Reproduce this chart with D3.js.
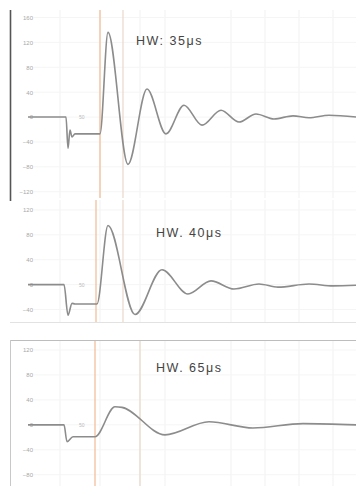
<!DOCTYPE html>
<html>
<head>
<meta charset="utf-8">
<script src="https://cdn.jsdelivr.net/npm/d3@7"></script>
<style>
  body { margin: 0; background: #fff; }
  svg { display: block; }
</style>
</head>
<body>
<div id="chart"></div>
<script>
// time axis in µs, shared by the three panels
var tA = [2, 40, 42, 44, 46, 49, 74, 82, 102, 121, 140, 158, 176, 195, 213, 230, 248, 267, 283, 303, 330];
var vA = [0, 0, -50, -21, -32, -27, -27, 136, -76, 45, -27, 19, -13, 11, -8, 5, -3, 2, -1, 3, 0];

var tB = [2, 38, 42, 46, 49, 71, 82, 109, 136, 162, 185, 208, 233, 252, 283, 307, 330];
var vB = [0, 0, -49, -30, -31, -31, 95, -48, 24, -15, 6, -7, 1, -4, 1, -2, -1];

var tC = [2, 38, 41, 47, 51, 69, 89, 96, 139, 183, 227, 277, 330];
var vC = [0, 0, -27, -19, -19, -19, 29, 28, -16, 5, -5, 2, 0];

var panels = [
  {name: "HW: 35\u03bcs", t: tA, v: vA, ticks: [160, 120, 80, 40, 0, -40, -80, -120], domain: [-130, 172], top: 10, bottom: 198, marks: [74, 97]},
  {name: "HW. 40\u03bcs", t: tB, v: vB, ticks: [120, 80, 40, 0, -40], domain: [-60, 136], top: 200, bottom: 322, marks: [70, 97]},
  {name: "HW. 65\u03bcs", t: tC, v: vC, ticks: [120, 80, 40, 0, -40, -80], domain: [-98, 136], top: 340, bottom: 486, marks: [69, 114]}
];
var gridT = [34, 74, 114, 139, 205, 239, 273, 307];

var width = 356, height = 486;
var svg = d3.select("#chart").append("svg")
    .attr("width", width)
    .attr("height", height);

var x = d3.scaleLinear().domain([0, 330]).range([26, 356]);

var line = d3.line().curve(d3.curveMonotoneX);

panels.forEach(function(p, i) {
    var y = d3.scaleLinear().domain(p.domain).range([p.bottom, p.top]);
    var g = svg.append("g").attr("class", "panel");

    // light grid
    g.selectAll("line.vg").data(gridT).enter().append("line")
        .attr("x1", d => x(d)).attr("x2", d => x(d))
        .attr("y1", p.top).attr("y2", p.bottom)
        .attr("stroke", "#f1f1f1").attr("stroke-width", 1);
    g.selectAll("line.hg").data(p.ticks).enter().append("line")
        .attr("x1", 34).attr("x2", width)
        .attr("y1", d => y(d)).attr("y2", d => y(d))
        .attr("stroke", "#f5f5f5").attr("stroke-width", 1);

    // y axis labels
    var axis = d3.axisLeft(y).tickValues(p.ticks).tickSize(0).tickPadding(0);
    var ax = g.append("g").attr("transform", "translate(33,0)").call(axis);
    ax.select(".domain").remove();
    ax.selectAll("text")
        .attr("fill", "#a8a8a8")
        .style("font", "6px 'Liberation Sans', Arial, sans-serif");

    // markers
    g.selectAll("line.mk").data(p.marks).enter().append("line")
        .attr("x1", d => x(d)).attr("x2", d => x(d))
        .attr("y1", p.top).attr("y2", p.bottom)
        .attr("stroke", (d, k) => k === 0 ? "#f2bb94" : "#ead8c8")
        .attr("stroke-width", 1.2);

    // small label on the baseline
    g.append("text")
        .attr("x", 79).attr("y", y(0) + 2)
        .attr("fill", "#bbb")
        .style("font", "5px 'Liberation Sans', Arial, sans-serif")
        .text("50");

    // waveform
    var pts = p.t.map((t, k) => [x(t), y(p.v[k])]);
    g.append("path")
        .attr("d", line(pts))
        .attr("fill", "none")
        .attr("stroke", "#8c8c8c")
        .attr("stroke-width", 1.6)
        .attr("stroke-linejoin", "round");

    g.append("text")
        .attr("x", i === 0 ? 136 : 156)
        .attr("y", i === 0 ? 45 : (i === 1 ? 237 : 372))
        .attr("fill", "#444")
        .style("font", "12.5px 'Liberation Sans', Arial, sans-serif")
        .style("letter-spacing", "1.5px")
        .text(p.name);
});

// frame lines
svg.append("line").attr("x1", 10.5).attr("x2", 10.5).attr("y1", 10).attr("y2", 201)
    .attr("stroke", "#555").attr("stroke-width", 1.6);
svg.append("line").attr("x1", 10).attr("x2", width).attr("y1", 322.5).attr("y2", 322.5)
    .attr("stroke", "#e2e2e2");
svg.append("line").attr("x1", 10).attr("x2", width).attr("y1", 340.5).attr("y2", 340.5)
    .attr("stroke", "#bdbdbd");
svg.append("line").attr("x1", 10.5).attr("x2", 10.5).attr("y1", 340).attr("y2", height)
    .attr("stroke", "#c8c8c8");
</script>
</body>
</html>
